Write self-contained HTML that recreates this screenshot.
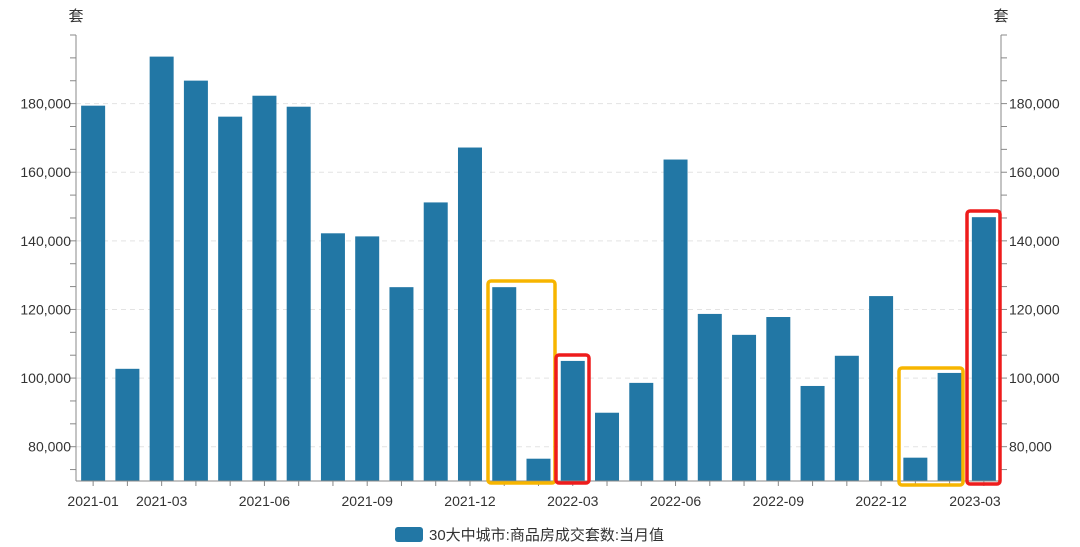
<!DOCTYPE html>
<html><head><meta charset="utf-8"><style>
body{margin:0;background:#fff;}
svg{display:block;font-family:"Liberation Sans","Noto Sans CJK SC",sans-serif;}
</style></head><body>
<svg id="chart" width="1080" height="547" viewBox="0 0 1080 547"></svg>
<script>
const categories=["2021-01","2021-02","2021-03","2021-04","2021-05","2021-06","2021-07","2021-08","2021-09","2021-10","2021-11","2021-12","2022-01","2022-02","2022-03","2022-04","2022-05","2022-06","2022-07","2022-08","2022-09","2022-10","2022-11","2022-12","2023-01","2023-02","2023-03"];
const values=[179400,102700,193700,186700,176200,182300,179100,142200,141300,126500,151200,167200,126500,76500,105000,89900,98600,163700,118700,112600,117800,97700,106500,123900,76800,101500,146900];
const yTicks=[80000,100000,120000,140000,160000,180000];
const xLabelIdx=[0,2,5,8,11,14,17,20,23,26];
const NS="http://www.w3.org/2000/svg";
const svg=document.getElementById('chart');
const L=76,R=1001,T=35,B=481,YMIN=70000,YMAX=200000;
const band=(R-L)/categories.length;
const x=i=>L+band*(i+0.5);
const y=v=>B-(v-YMIN)/(YMAX-YMIN)*(B-T);
function el(t,a){const e=document.createElementNS(NS,t);for(const k in a)e.setAttribute(k,a[k]);svg.appendChild(e);return e;}
// grid
yTicks.forEach(v=>{
 const g=el('line',{x1:L,x2:R,y1:y(v),y2:y(v),stroke:'#e3e3e3','stroke-dasharray':'5,4'});
 
 
});
// bars
values.forEach((v,i)=>{
 const r=el('rect',{x:x(i)-12,y:y(v),width:24,height:B-y(v),fill:'#2277a5'});
 
 
});
// axes
[L,R].forEach((ax,s)=>{
 const a=el('line',{x1:ax,x2:ax,y1:T,y2:B,stroke:'#888'});
 
 
 for(let v=YMAX;v>=YMIN;v-=20000/3){
  el('line',{x1:s?ax:ax-6,x2:s?ax+6:ax,y1:y(v),y2:y(v),stroke:'#888'});
 }
 yTicks.forEach(v=>{
  const t=el('text',{x:s?ax+8:ax-5,y:y(v)+5,'font-size':14,fill:'#333','text-anchor':s?'start':'end'});
  t.textContent=v.toLocaleString('en-US');
  
  
 });
});
const xa=el('line',{x1:L,x2:R,y1:B,y2:B,stroke:'#888'});


categories.forEach((c,i)=>el('line',{x1:x(i),x2:x(i),y1:B,y2:B+5,stroke:'#888'}));
xLabelIdx.forEach(i=>{
 let cx=x(i); if(i===categories.length-1) cx=975;
 const t=el('text',{x:cx,y:B+25,'font-size':14,fill:'#333','text-anchor':'middle'});
 t.textContent=categories[i];
 
 
});
[[76,'left'],[1001,'right']].forEach(([px,n])=>{
 const t=el('text',{x:px,y:21,'font-size':15,fill:'#333','text-anchor':'middle'});
 t.textContent='套';
 
 
});
// annotation boxes
[[488,281,67,202,'#f7b500'],[556,355,33,128,'#ee1c1c'],[899,368,64,117,'#f7b500'],[967,211,33,273,'#ee1c1c']].forEach((b,k)=>{
 const r=el('rect',{x:b[0],y:b[1],width:b[2],height:b[3],fill:'none',stroke:b[4],'stroke-width':3.5,rx:3});
 
 
});
// legend
const lg=el('rect',{x:395,y:527,width:28,height:15,rx:3,fill:'#2277a5'});


const lt=el('text',{x:429,y:540,'font-size':15,fill:'#333'});
lt.textContent='30大中城市:商品房成交套数:当月值';


</script>
</body></html>
